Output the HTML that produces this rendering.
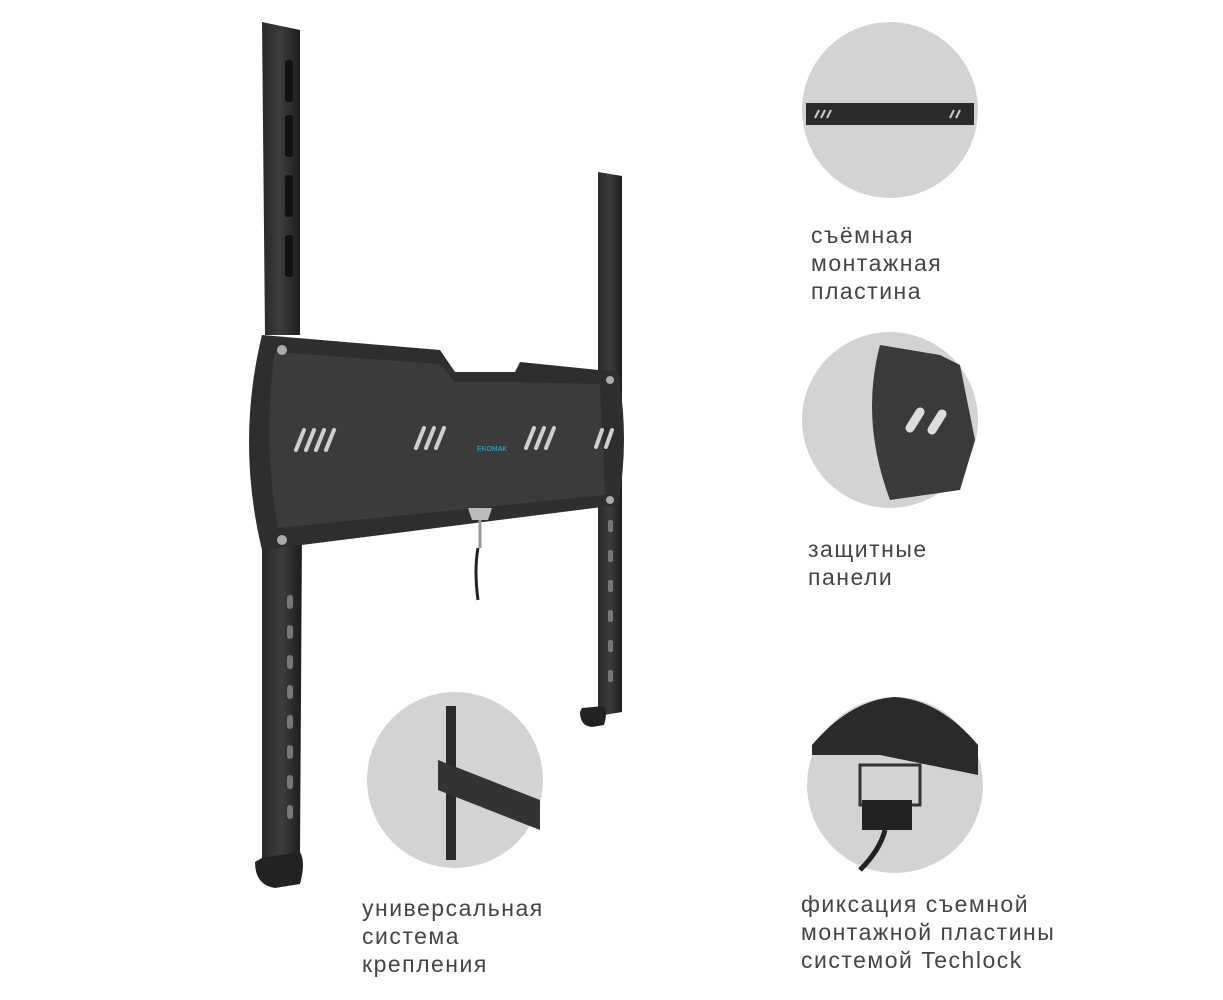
<!DOCTYPE html>
<html><head><meta charset="utf-8"><style>
html,body{margin:0;padding:0;background:#fff;width:1223px;height:1000px;overflow:hidden}
.t{position:absolute;font-family:"Liberation Sans",sans-serif;font-size:23px;line-height:28px;color:#444;letter-spacing:1.5px}
</style></head><body>
<svg width="1223" height="1000" style="position:absolute;left:0;top:0">
<defs>
<linearGradient id="g" x1="0" x2="1"><stop offset="0" stop-color="#2a2a2a"/><stop offset="0.5" stop-color="#3c3c3c"/><stop offset="1" stop-color="#1c1c1c"/></linearGradient>
</defs>
<path d="M262 22 L300 30 L300 335 L265 335 Z" fill="url(#g)"/>
<path d="M262 540 L302 530 L300 855 L262 862 Z" fill="url(#g)"/>
<path d="M255 862 Q255 885 275 888 L300 884 Q306 862 300 852 L262 858 Z" fill="#222"/>
<g fill="#111">
<rect x="285" y="60" width="8" height="42" rx="3"/><rect x="285" y="115" width="8" height="42" rx="3"/><rect x="285" y="175" width="8" height="42" rx="3"/><rect x="285" y="235" width="8" height="42" rx="3"/>
</g>
<g fill="#777">
<rect x="287" y="595" width="6" height="14" rx="3"/><rect x="287" y="625" width="6" height="14" rx="3"/><rect x="287" y="655" width="6" height="14" rx="3"/><rect x="287" y="685" width="6" height="14" rx="3"/><rect x="287" y="715" width="6" height="14" rx="3"/><rect x="287" y="745" width="6" height="14" rx="3"/><rect x="287" y="775" width="6" height="14" rx="3"/><rect x="287" y="805" width="6" height="14" rx="3"/>
</g>
<path d="M598 172 L622 176 L622 712 L598 716 Z" fill="url(#g)"/>
<path d="M580 712 Q580 726 592 727 L604 725 Q608 712 604 706 L582 708 Z" fill="#222"/>
<g fill="#777">
<rect x="608" y="520" width="5" height="12" rx="2"/><rect x="608" y="550" width="5" height="12" rx="2"/><rect x="608" y="580" width="5" height="12" rx="2"/><rect x="608" y="610" width="5" height="12" rx="2"/><rect x="608" y="640" width="5" height="12" rx="2"/><rect x="608" y="670" width="5" height="12" rx="2"/>
</g>
<path d="M262 335 L440 350 L455 372 L515 372 L520 362 L618 372 Q630 440 618 505 L262 550 Q236 442 262 335 Z" fill="#2e2e2e"/>
<path d="M275 352 L440 364 L455 382 L515 382 L600 384 L605 495 L278 528 Q262 440 275 352 Z" fill="#3b3b3b"/>
<g stroke="#cfcfcf" stroke-width="4" stroke-linecap="round">
<line x1="296" y1="450" x2="304" y2="430"/><line x1="306" y1="450" x2="314" y2="430"/><line x1="316" y1="450" x2="324" y2="430"/><line x1="326" y1="450" x2="334" y2="430"/>
<line x1="416" y1="448" x2="424" y2="428"/><line x1="426" y1="448" x2="434" y2="428"/><line x1="436" y1="448" x2="444" y2="428"/>
<line x1="526" y1="448" x2="534" y2="428"/><line x1="536" y1="448" x2="544" y2="428"/><line x1="546" y1="448" x2="554" y2="428"/>
<line x1="596" y1="447" x2="602" y2="430"/><line x1="606" y1="447" x2="612" y2="430"/>
</g>
<text x="477" y="451" font-family="Liberation Sans" font-size="7" fill="#3ab0d8">EKOMAK</text>
<path d="M468 508 L492 508 L488 520 L472 520 Z" fill="#bbb"/>
<line x1="480" y1="520" x2="480" y2="548" stroke="#999" stroke-width="3"/>
<path d="M478 548 Q474 570 478 600" stroke="#222" stroke-width="3" fill="none"/>
<g fill="#aaa"><circle cx="282" cy="350" r="5"/><circle cx="282" cy="540" r="5"/><circle cx="610" cy="380" r="4"/><circle cx="610" cy="500" r="4"/></g>
<circle cx="890" cy="110" r="88" fill="#d3d3d5"/>
<rect x="806" y="103" width="168" height="22" fill="#2a2a2a"/>
<g stroke="#ccc" stroke-width="2"><line x1="815" y1="118" x2="819" y2="110"/><line x1="821" y1="118" x2="825" y2="110"/><line x1="827" y1="118" x2="831" y2="110"/><line x1="950" y1="118" x2="954" y2="110"/><line x1="956" y1="118" x2="960" y2="110"/></g>
<circle cx="890" cy="420" r="88" fill="#d3d3d5"/>
<path d="M880 345 L940 355 L960 365 L975 440 L960 490 L890 500 Q860 420 880 345 Z" fill="#3a3a3a"/>
<g stroke="#ddd" stroke-width="9" stroke-linecap="round"><line x1="910" y1="428" x2="920" y2="412"/><line x1="932" y1="430" x2="942" y2="414"/></g>
<circle cx="455" cy="780" r="88" fill="#d3d3d5"/>
<path d="M446 706 L456 706 L456 860 L446 860 Z" fill="#2a2a2a"/>
<path d="M438 760 L540 800 L540 830 L438 790 Z" fill="#333"/>
<circle cx="895" cy="785" r="88" fill="#d3d3d5"/>
<path d="M812 745 Q850 700 895 697 Q940 700 978 745 L978 775 L880 755 L812 755 Z" fill="#2a2a2a"/>
<rect x="860" y="765" width="60" height="40" fill="none" stroke="#333" stroke-width="3"/>
<rect x="862" y="800" width="50" height="30" fill="#222"/>
<path d="M885 830 Q880 850 860 870" stroke="#222" stroke-width="5" fill="none"/>
</svg>
<div class="t" style="left:811px;top:221px">съёмная<br>монтажная<br>пластина</div>
<div class="t" style="left:808px;top:535px">защитные<br>панели</div>
<div class="t" style="left:362px;top:894px">универсальная<br>система<br>крепления</div>
<div class="t" style="left:801px;top:890px">фиксация съемной<br>монтажной пластины<br>системой Techlock</div>
</body></html>
